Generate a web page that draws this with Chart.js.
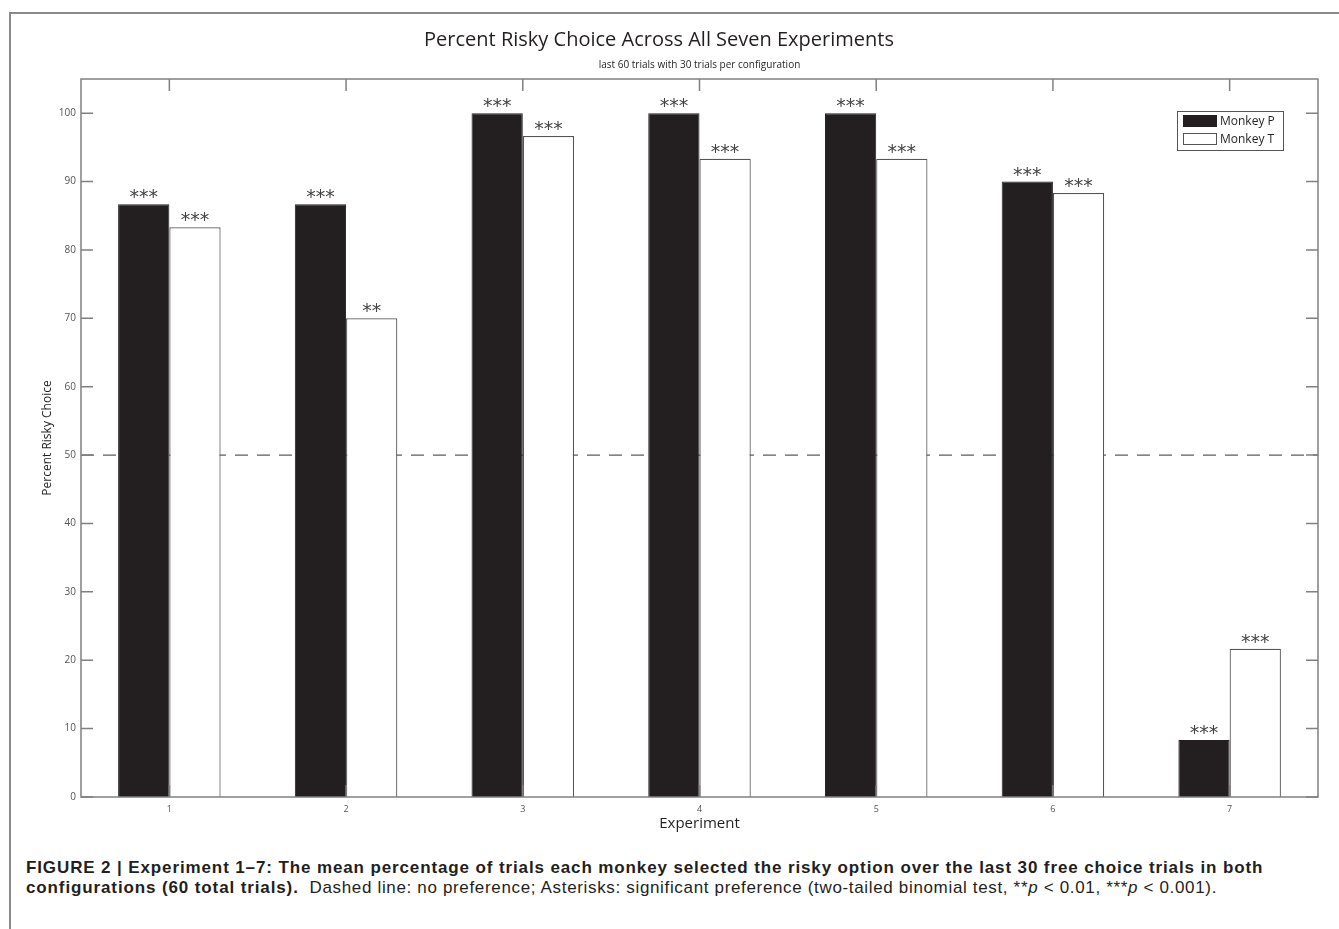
<!DOCTYPE html>
<html>
<head>
<meta charset="utf-8">
<script src="https://cdn.jsdelivr.net/npm/chart.js@4.4.1/dist/chart.umd.min.js"></script>
<style>
  body { margin: 0; background: #fff; }
  #page { position: relative; width: 1339px; height: 929px; overflow: hidden; }
  #frame { position: absolute; left: 9px; top: 12px; right: 0; bottom: 0;
           border-left: 2px solid #8a8a8a; border-top: 2px solid #8a8a8a; }
  #wrap { position: absolute; left: 0; top: 0; width: 1339px; height: 850px; }
  #caption { position: absolute; left: 26px; top: 858px; font-family: "Liberation Sans", Arial, sans-serif;
             font-size: 17px; letter-spacing: 0.66px; line-height: 20px; color: #231f20; white-space: nowrap; }
  #caption b { font-weight: bold; letter-spacing: 0.88px; }
</style>
</head>
<body>
<div id="page">
  <div id="frame"></div>
  <div id="wrap"><canvas id="graphCanvas" width="1339" height="850"></canvas></div>
  <div id="caption">
    <b>FIGURE 2 | Experiment 1–7: The mean percentage of trials each monkey selected the risky option over the last 30 free choice trials in both</b><br>
    <b>configurations (60 total trials).</b>&nbsp; Dashed line: no preference; Asterisks: significant preference (two-tailed binomial test, **<i>p</i> &lt; 0.01, ***<i>p</i> &lt; 0.001).
  </div>
</div>
<script>
// values (percent risky choice)
var experiments = ['1', '2', '3', '4', '5', '6', '7'];
var monkeyP = [86.67, 86.67, 100, 100, 100, 90, 8.33];
var monkeyT = [83.33, 70, 96.67, 93.33, 93.33, 88.33, 21.67];
var starsP = ['***', '***', '***', '***', '***', '***', '***'];
var starsT = ['***', '**', '***', '***', '***', '***', '***'];
var yTicks = [0, 10, 20, 30, 40, 50, 60, 70, 80, 90, 100];
var noPreference = 50;

var axisColor = '#808080';
var tickLen = 12;

// dashed 50% line goes under the bars
var chanceLine = {
  id: 'chanceLine',
  beforeDatasetsDraw: function (chart) {
    var ctx = chart.ctx, a = chart.chartArea;
    var y = chart.scales.y.getPixelForValue(noPreference);
    ctx.save();
    ctx.strokeStyle = '#333';
    ctx.lineWidth = 1;
    ctx.setLineDash([13, 9]);
    ctx.beginPath();
    ctx.moveTo(a.left, y);
    ctx.lineTo(a.right, y);
    ctx.stroke();
    ctx.restore();
  }
};

// box, inward ticks, asterisks, legend
var extras = {
  id: 'extras',
  afterDatasetsDraw: function (chart) {
    var ctx = chart.ctx, a = chart.chartArea;
    var xs = chart.scales.x, ys = chart.scales.y;
    ctx.save();
    ctx.strokeStyle = axisColor;
    ctx.lineWidth = 1.5;
    ctx.strokeRect(a.left, a.top, a.right - a.left, a.bottom - a.top);

    ctx.beginPath();
    ys.ticks.forEach(function (t) {
      var y = ys.getPixelForValue(t.value);
      ctx.moveTo(a.left, y); ctx.lineTo(a.left + tickLen, y);
      ctx.moveTo(a.right, y); ctx.lineTo(a.right - tickLen, y);
    });
    xs.ticks.forEach(function (t, i) {
      var x = xs.getPixelForTick(i);
      ctx.moveTo(x, a.top); ctx.lineTo(x, a.top + tickLen);
      ctx.moveTo(x, a.bottom); ctx.lineTo(x, a.bottom - tickLen);
    });
    ctx.stroke();

    // significance stars
    ctx.fillStyle = '#444';
    ctx.font = '19px "DejaVu Sans"';
    ctx.textAlign = 'center';
    ctx.textBaseline = 'alphabetic';
    [starsP, starsT].forEach(function (stars, di) {
      var meta = chart.getDatasetMeta(di);
      meta.data.forEach(function (bar, j) {
        ctx.fillText(stars[j], bar.x, bar.y - 1);
      });
    });

    // legend box in the top right
    var lx = a.right - 141, ly = a.top + 32;
    ctx.fillStyle = '#fff';
    ctx.fillRect(lx, ly, 106, 39);
    ctx.strokeStyle = '#555';
    ctx.lineWidth = 1;
    ctx.strokeRect(lx + 0.5, ly + 0.5, 106, 39);
    ctx.font = '12px "Open Sans"';
    ctx.textAlign = 'left';
    ctx.textBaseline = 'middle';
    chart.data.datasets.forEach(function (ds, i) {
      var sy = ly + 4 + i * 18;
      ctx.fillStyle = ds.backgroundColor;
      ctx.fillRect(lx + 6, sy, 34, 12);
      ctx.strokeStyle = ds.borderColor;
      ctx.strokeRect(lx + 6.5, sy + 0.5, 33, 11);
      ctx.fillStyle = '#231f20';
      ctx.fillText(ds.label, lx + 43, sy + 6.5);
    });
    ctx.restore();
  }
};

var chartdata = {
  labels: experiments,
  datasets: [
    {
      label: 'Monkey P',
      data: monkeyP,
      backgroundColor: '#231f20',
      borderColor: '#231f20',
      borderWidth: 1,
      borderSkipped: 'bottom'
    },
    {
      label: 'Monkey T',
      data: monkeyT,
      backgroundColor: '#ffffff',
      borderColor: '#555555',
      borderWidth: 1.2,
      borderSkipped: 'bottom'
    }
  ]
};

var graphTarget = document.getElementById('graphCanvas');
window.bar = new Chart(graphTarget, {
  type: 'bar',
  data: chartdata,
  plugins: [chanceLine, extras],
  options: {
    responsive: false,
    animation: false,
    layout: { padding: { top: 28, right: 21, left: 0, bottom: 0 } },
    datasets: { bar: { categoryPercentage: 0.58, barPercentage: 1.0 } },
    scales: {
      x: {
        grid: { display: false, drawTicks: false },
        border: { display: false },
        ticks: { padding: 7, color: '#555', font: { family: 'Open Sans', size: 9 } },
        title: { display: true, text: 'Experiment', color: '#231f20',
                 font: { family: 'Open Sans', size: 15 }, padding: { top: 0, bottom: 17 } },
        afterFit: function (scale) { scale.height = 53; }
      },
      y: {
        min: 0,
        max: 105,
        grid: { display: false, drawTicks: false },
        border: { display: false },
        ticks: { padding: 5, color: '#555', font: { family: 'Open Sans', size: 10 } },
        afterBuildTicks: function (scale) {
          scale.ticks = yTicks.map(function (v) { return { value: v }; });
        },
        title: { display: true, text: 'Percent Risky Choice', color: '#231f20',
                 font: { family: 'Open Sans', size: 12 }, padding: { top: 40, bottom: 0 } },
        afterFit: function (scale) { scale.width = 81; }
      }
    },
    plugins: {
      legend: { display: false },
      tooltip: { enabled: false },
      title: {
        display: true,
        text: 'Percent Risky Choice Across All Seven Experiments',
        color: '#231f20',
        font: { family: 'Open Sans', size: 20, weight: 'normal' },
        padding: { top: 0, bottom: 7 }
      },
      subtitle: {
        display: true,
        text: 'last 60 trials with 30 trials per configuration',
        color: '#231f20',
        fullSize: false,
        font: { family: 'Open Sans', size: 10 },
        padding: { top: 0, bottom: 8 }
      }
    }
  }
});
</script>
</body>
</html>
